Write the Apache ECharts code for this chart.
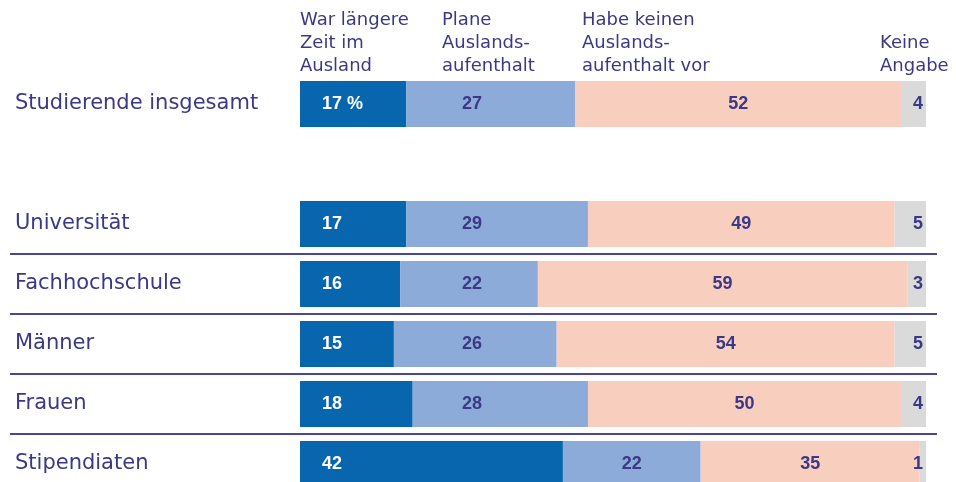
<!DOCTYPE html>
<html>
<head>
<meta charset="utf-8">
<script src="https://cdn.jsdelivr.net/npm/echarts@6/dist/echarts.min.js"></script>
<style>
  html, body { margin: 0; padding: 0; background: #fff; }
  #chart { width: 956px; height: 482px; }
</style>
</head>
<body>
<div id="chart"></div>
<script>
// Auslandsaufenthalte von Studierenden, Anteile in %
const categories = ['Studierende insgesamt', '', 'Universität', 'Fachhochschule', 'Männer', 'Frauen', 'Stipendiaten'];
const warImAusland = [17, '-', 17, 16, 15, 18, 42];
const planeAufenthalt = [27, '-', 29, 22, 26, 28, 22];
const keinAufenthalt = [52, '-', 49, 59, 54, 50, 35];
const keineAngabe = [4, '-', 5, 3, 5, 4, 1];
const headers = ['War längere\nZeit im\nAusland', 'Plane\nAuslands-\naufenthalt', 'Habe keinen\nAuslands-\naufenthalt vor', 'Keine\nAngabe'];

const navy = '#3b3886';
const headFont = '"DejaVu Sans", sans-serif';
const numFont = '"Liberation Sans", Arial, sans-serif';
const colX = 462; // Spalte für die hellblauen Werte

const chart = echarts.init(document.getElementById('chart'));

function numLabel(color, position, extra) {
	return Object.assign({
		show: true,
		position: position,
		color: color,
		fontFamily: numFont,
		fontWeight: 'bold',
		fontSize: 18
	}, extra || {});
}

function bar(name, data, color, label) {
	return {
		name: name,
		type: 'bar',
		stack: 'all',
		barWidth: 46,
		data: data,
		itemStyle: { color: color },
		label: label,
		emphasis: { disabled: true },
		animation: false
	};
}

const option = {
	animation: false,
	grid: { left: 300, right: 30, top: 74, height: 420, outerBoundsMode: 'none', containLabel: false },
	xAxis: { type: 'value', min: 0, max: 100, show: false },
	yAxis: {
		type: 'category',
		data: categories,
		inverse: true,
		axisLine: { show: false },
		axisTick: { show: false },
		axisLabel: {
			align: 'left',
			margin: 285,
			color: navy,
			fontFamily: headFont,
			fontSize: 21
		}
	},
	series: [
		bar(headers[0], warImAusland, '#0866ae', numLabel('#fff', 'insideLeft', {
			distance: 22,
			formatter: (p) => p.dataIndex === 0 ? p.value + ' %' : p.value
		})),
		bar(headers[1], planeAufenthalt, '#8dabd9', numLabel(navy, 'inside')),
		bar(headers[2], keinAufenthalt, '#f8cfbe', numLabel(navy, 'inside')),
		bar(headers[3], keineAngabe, '#dadada', numLabel(navy, 'insideRight', { distance: 3 }))
	]
};

chart.setOption(option);

// hellblaue Werte an einer gemeinsamen Spalte ausrichten, wenn sie ins Segment passt
const blueData = planeAufenthalt.map((v, i) => {
	if (v === '-') return v;
	const start = chart.convertToPixel({ xAxisIndex: 0 }, warImAusland[i]);
	const end = chart.convertToPixel({ xAxisIndex: 0 }, warImAusland[i] + v);
	if (colX > start && colX + 30 < end) {
		return { value: v, label: { position: 'insideLeft', distance: 0, offset: [colX - start, 0] } };
	}
	return v;
});

// Trennlinien zwischen den Zeilen
const lines = [];
for (let i = 2; i < categories.length - 1; i++) {
	const y = Math.round((chart.convertToPixel({ yAxisIndex: 0 }, i) + chart.convertToPixel({ yAxisIndex: 0 }, i + 1)) / 2);
	lines.push({
		type: 'line',
		shape: { x1: 10, y1: y, x2: 937, y2: y },
		style: { stroke: '#4a4697', lineWidth: 2 }
	});
}

const headX = [300, 442, 582, 880];
const headTop = [9, 9, 9, 32];
const texts = headers.map((t, i) => ({
	type: 'text',
	left: headX[i],
	top: headTop[i],
	style: {
		text: t,
		fill: navy,
		font: '18px ' + headFont,
		lineHeight: 23
	}
}));

chart.setOption({
	series: [{}, { data: blueData }],
	graphic: lines.concat(texts)
});
</script>
</body>
</html>
